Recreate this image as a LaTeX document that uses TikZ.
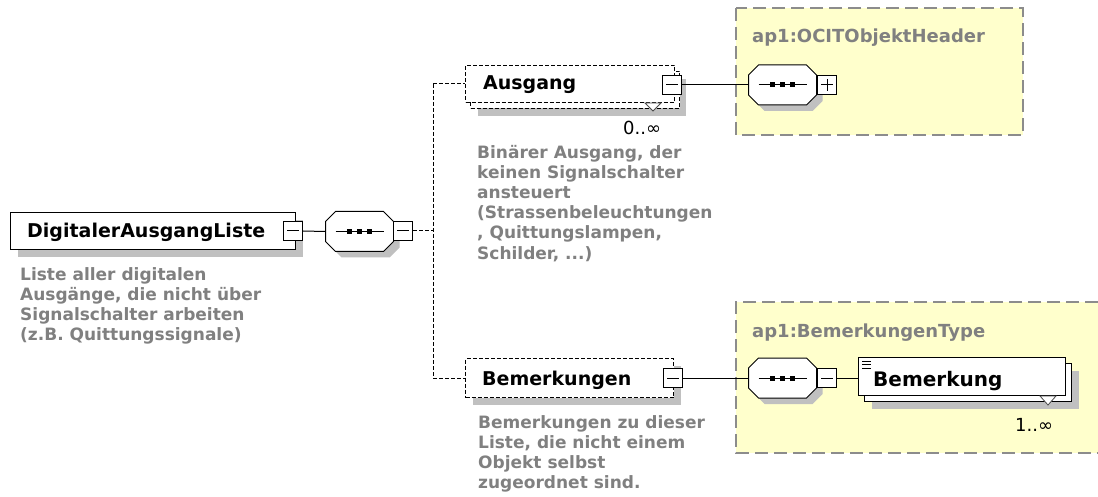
\documentclass[tikz,border=0pt]{standalone}
\usepackage{fontspec}
\setmainfont{DejaVu Sans}
\usetikzlibrary{calc}
\definecolor{shadowgray}{RGB}{192,192,192}
\definecolor{descgray}{RGB}{128,128,128}
\definecolor{typeyellow}{RGB}{255,255,204}
\definecolor{typeborder}{RGB}{140,140,140}
\newcommand\tridot{...}
\tikzset{
  elembox/.style={draw=black, fill=white, line width=1pt, anchor=north west, inner sep=0pt},
  optbox/.style={elembox, dash pattern=on 4pt off 2pt},
  shadowbox/.style={fill=shadowgray, draw=none, anchor=north west, inner sep=0pt},
  seqanchor/.style={draw=none, minimum width=68pt, minimum height=40pt, inner sep=0pt},
  pmbox/.style={draw=black, fill=white, line width=1pt, minimum size=19pt, inner sep=0pt},
  conn/.style={draw=black, line width=1pt},
  dconn/.style={draw=black, line width=1pt, dash pattern=on 4pt off 2pt},
  nametext/.style={font=\fontsize{19}{22}\selectfont\bfseries, inner sep=0pt, anchor=base west},
  desctext/.style={font=\fontsize{17}{20}\selectfont\bfseries, text=descgray, inner sep=0pt, anchor=base west},
  typetext/.style={font=\fontsize{18}{21}\selectfont\bfseries, text=descgray, inner sep=0pt, anchor=base west},
  multtext/.style={font=\fontsize{18}{21}\selectfont, inner sep=0pt, anchor=base west},
  typebox/.style={fill=typeyellow, draw=typeborder, line width=1.5pt, dash pattern=on 13pt off 6pt},
}
\newcommand\octpath[2]{(#1-24,#2-20) -- (#1+24,#2-20) -- (#1+34,#2-10) -- (#1+34,#2+10) -- (#1+24,#2+20) -- (#1-24,#2+20) -- (#1-34,#2+10) -- (#1-34,#2-10) -- cycle}
\newcommand\seqoct[3]{%
  \fill[shadowgray] \octpath{#2+6}{#3+6};
  \draw[line width=1pt, fill=white] \octpath{#2}{#3};
  \node[seqanchor] (#1) at (#2,#3) {};
  \draw[line width=1pt] ($(#1.center)+(-24,0)$) -- ($(#1.center)+(24,0)$);
  \foreach \dx in {-10,0,10} \fill ($(#1.center)+(\dx-2.5,-2.5)$) rectangle ++(5,5);
}
\newcommand\minusbox[3]{%
  \node[pmbox] (#1) at (#2,#3) {};
  \draw[line width=1pt] ($(#1.center)+(-6,0)$) -- ($(#1.center)+(6,0)$);
}
\newcommand\plusbox[3]{%
  \node[pmbox] (#1) at (#2,#3) {};
  \draw[line width=1pt] ($(#1.center)+(-6,0)$) -- ($(#1.center)+(6,0)$);
  \draw[line width=1pt] ($(#1.center)+(0,-6)$) -- ($(#1.center)+(0,6)$);
}
\begin{document}
\begin{tikzpicture}[x=1pt,y=-1pt]
\useasboundingbox (0,0) rectangle (1098,497);
\fill[white] (0,0) rectangle (1098,497);

% yellow type boxes
\draw[typebox] (736,8) rectangle (1023,135);
\node[typetext] (t1) at (752,43) {ap1:OCITObjektHeader};
\fill[typeyellow] (736,302) rectangle (1098,453);
\draw[typebox, fill=none] (1098,302) -- (736,302) -- (736,453) -- (1098,453);
\node[typetext] (t2) at (752,337) {ap1:BemerkungenType};

% root element
\node[shadowbox, minimum width=285pt, minimum height=37pt] (dals) at (18,220) {};
\node[elembox, minimum width=285pt, minimum height=37pt] (dal) at (10,212) {};
\node[nametext] (dalt) at (27,238) {DigitalerAusgangListe};
\minusbox{dalm}{293}{231}
\foreach \t [count=\i] in {{Liste aller digitalen},{Ausgänge, die nicht über},{Signalschalter arbeiten},{(z.B. Quittungssignale)}}
  \node[desctext] (dald\i) at (20,{280+20*(\i-1)}) {\t};

% sequence 1
\seqoct{sq1}{359.5}{231.5}
\minusbox{sq1m}{403}{231}
\coordinate (jc) at (433,231);
\coordinate (jt) at (433,84);
\coordinate (jb) at (433,378);

% Ausgang (optional, repeated)
\node[shadowbox, minimum width=208pt, minimum height=37pt] (ausgs) at (478,79) {};
\node[optbox, minimum width=209pt, minimum height=37pt] (ausgb) at (470,71) {};
\node[optbox, minimum width=209pt, minimum height=37pt] (ausg) at (465,65) {};
\draw[line width=0.8pt, draw=black!70, fill=white] (645,103) -- (661,103) -- (653,111) -- cycle;
\node[nametext] (ausgt) at (483,90) {Ausgang};
\minusbox{ausgm}{672}{85}
\node[multtext] (ausgmult) at (623,135) {0..∞};
\foreach \t [count=\i] in {{Binärer Ausgang, der},{keinen Signalschalter},{ansteuert},{(Strassenbeleuchtungen},{, Quittungslampen,},{Schilder, \tridot)}}
  \node[desctext] (ausgd\i) at (477,{159+20*(\i-1)}) {\t};

% OCIT header sequence
\seqoct{sq2}{782.5}{85}
\plusbox{sq2p}{827}{85}

% Bemerkungen (optional)
\node[shadowbox, minimum width=208pt, minimum height=39pt] (bems) at (473,366) {};
\node[optbox, minimum width=208pt, minimum height=39pt] (bem) at (465,358) {};
\node[nametext] (bemt) at (482,385) {Bemerkungen};
\minusbox{bemm}{673}{378}
\foreach \t [count=\i] in {{Bemerkungen zu dieser},{Liste, die nicht einem},{Objekt selbst},{zugeordnet sind.}}
  \node[desctext] (bemd\i) at (478,{428+20*(\i-1)}) {\t};

% Bemerkungen type sequence
\seqoct{sq3}{782.5}{378}
\minusbox{sq3m}{827}{378}
\node[shadowbox, minimum width=207pt, minimum height=38pt] (bks) at (872,371) {};
\node[elembox, minimum width=207pt, minimum height=38pt] (bkb) at (864,363) {};
\node[elembox, minimum width=207pt, minimum height=38pt] (bk) at (858,357) {};
\draw[line width=0.8pt, draw=black!70, fill=white] (1040,396) -- (1056,396) -- (1048,405) -- cycle;
\draw[line width=1pt] (862,361) -- (871,361) (862,364.5) -- (871,364.5) (862,368) -- (871,368);
\node[nametext, font=\fontsize{20}{23}\selectfont\bfseries] (bkt) at (873,386) {Bemerkung};
\node[multtext] (bkmult) at (1015,431) {1..∞};

% connectors
\draw[conn] (dalm.east) -- (sq1.west);
\draw[dconn] (sq1m.east) -- (jc);
\draw[dconn] (jt) -- (jb);
\draw[dconn] (jt) -- (ausg.west |- jt);
\draw[dconn] (jb) -- (bem.west |- jb);
\draw[conn] (ausgm.east) -- (sq2.west);
\draw[conn] (bemm.east) -- (sq3.west);
\draw[conn] (sq3m.east) -- (bk.west |- sq3m.east);
\end{tikzpicture}
\end{document}
